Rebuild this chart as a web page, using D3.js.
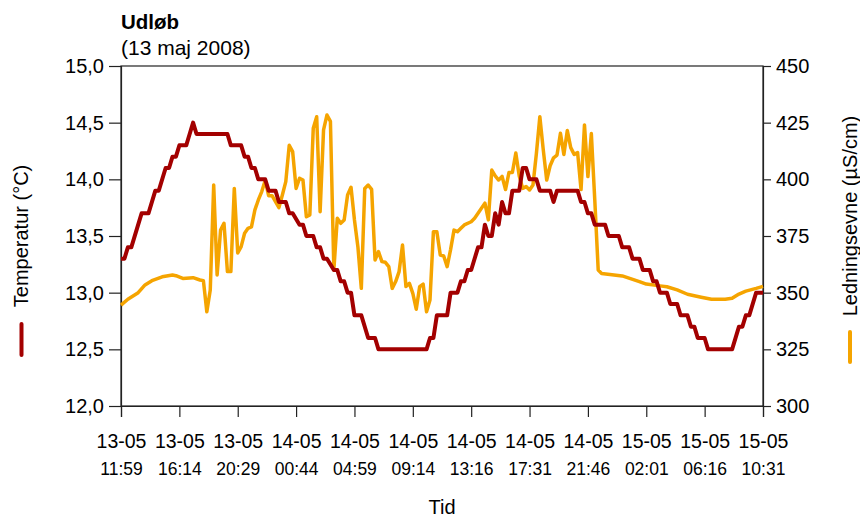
<!DOCTYPE html>
<html lang="da">
<head>
<meta charset="UTF-8">
<title>Udløb</title>
<script src="https://d3js.org/d3.v7.min.js"></script>
<style>
  body { margin: 0; background: #fff; }
  svg text { font-family: "Liberation Sans", Arial, Helvetica, sans-serif; fill: #000; }
</style>
</head>
<body>
<svg id="chart" width="860" height="518"></svg>
<script>
  // tick labels on the time axis (one tick every 17 samples)
  var tickDates = ["13-05", "13-05", "13-05", "14-05", "14-05", "14-05", "14-05", "14-05", "14-05", "15-05", "15-05", "15-05"];
  var tickTimes = ["11:59", "16:14", "20:29", "00:44", "04:59", "09:14", "13:16", "17:31", "21:46", "02:01", "06:16", "10:31"];
  var tickIdx = [0, 17, 34, 51, 68, 85, 102, 119, 136, 153, 170, 187];

  // [sample index, temperature °C]
  var temperature = [
    [0, 13.3], [1, 13.3], [2, 13.4], [3, 13.4], [6, 13.7], [8, 13.7], [10, 13.9], [11, 13.9],
    [13, 14.1], [14, 14.1], [15, 14.2], [16, 14.2], [17, 14.3], [19, 14.3], [20, 14.4], [21, 14.5],
    [22, 14.4], [31, 14.4], [32, 14.3], [35, 14.3], [36, 14.2], [37, 14.2], [38, 14.1], [39, 14.1],
    [40, 14.0], [42, 14.0], [43, 13.9], [45, 13.9], [46, 13.8], [48, 13.8], [49, 13.7], [50, 13.7],
    [52, 13.6], [53, 13.6], [54, 13.5], [56, 13.5], [57, 13.4], [58, 13.4], [59, 13.3], [60, 13.3],
    [62, 13.2], [63, 13.2], [64, 13.1], [65, 13.1], [66, 13.0], [67, 13.0], [68, 12.8], [70, 12.8],
    [72, 12.6], [74, 12.6], [75, 12.5], [89, 12.5], [90, 12.6], [91, 12.6], [92, 12.8], [95, 12.8],
    [96, 13.0], [98, 13.0], [99, 13.1], [100, 13.1], [101, 13.2], [102, 13.2], [104, 13.4], [105, 13.4],
    [106, 13.6], [107, 13.5], [108, 13.5], [109, 13.7], [110, 13.6], [111, 13.8], [112, 13.7], [113, 13.7],
    [114, 13.9], [116, 13.9], [117, 14.1], [118, 14.1], [119, 14.0], [121, 14.0], [122, 13.9], [125, 13.9],
    [126, 13.8], [127, 13.9], [133, 13.9], [134, 13.8], [135, 13.8], [136, 13.7], [137, 13.7], [138, 13.6],
    [141, 13.6], [142, 13.5], [145, 13.5], [146, 13.4], [148, 13.4], [149, 13.3], [151, 13.3], [152, 13.2],
    [154, 13.2], [155, 13.1], [156, 13.1], [157, 13.0], [159, 13.0], [160, 12.9], [162, 12.9], [163, 12.8],
    [165, 12.8], [166, 12.7], [167, 12.7], [168, 12.6], [170, 12.6], [171, 12.5], [178, 12.5], [180, 12.7],
    [181, 12.7], [182, 12.8], [183, 12.8], [185, 13.0], [187, 13.0]
  ];

  // [sample index, conductivity µS/cm]
  var conductivity = [
    [0, 344.5], [2, 347.1], [5, 350], [7, 353.4], [9, 355.3], [12, 357], [15, 357.8], [16, 357.5],
    [18, 356.3], [21, 356.6], [23, 355.6], [24, 355.3], [25, 341.6], [26, 351.2], [27, 397.5], [28, 357.8],
    [29, 377.6], [30, 380.6], [31, 359.3], [32, 359.3], [33, 396], [34, 367.5], [35, 370.3], [36, 376.2],
    [37, 378.4], [38, 379], [39, 386.5], [40, 390.9], [41, 394.6], [42, 399.5], [43, 392.8], [44, 392.8],
    [46, 387.5], [47, 393.1], [48, 399], [49, 415], [50, 412.2], [51, 396], [52, 400.5], [53, 399.7],
    [54, 383.5], [55, 384.3], [56, 422.5], [57, 427.6], [58, 385.7], [59, 421.8], [60, 428.4], [61, 425.6],
    [62, 360], [63, 382.8], [64, 380.6], [65, 382.1], [66, 393.1], [67, 396.5], [68, 382.1], [69, 370.3],
    [70, 351.9], [71, 396], [72, 397.5], [73, 395.6], [74, 364.4], [75, 368.1], [76, 363.7], [77, 363.4],
    [78, 361.5], [79, 351.9], [80, 354.9], [81, 359.3], [82, 371], [83, 352.7], [84, 354.1], [85, 349.7],
    [86, 342.7], [87, 352.7], [88, 353.8], [89, 341.6], [90, 346.8], [91, 376.9], [92, 376.9], [93, 366.6],
    [94, 366.2], [95, 361.5], [96, 369], [97, 377.6], [98, 376.9], [99, 378.4], [100, 379.9], [102, 381.3],
    [103, 382.8], [104, 385], [106, 389.5], [107, 382.1], [108, 404.1], [109, 401.5], [110, 399.7], [111, 401.3],
    [112, 395.5], [113, 403], [114, 403], [115, 411.6], [116, 401.5], [117, 396], [118, 396.8], [119, 395.3],
    [120, 397.5], [121, 411.5], [122, 427.6], [123, 413], [124, 399.7], [125, 406], [126, 409.5], [127, 410.7],
    [128, 420.3], [129, 411], [130, 421.5], [131, 414], [132, 411], [133, 411.8], [134, 395.5], [135, 424],
    [136, 401.2], [137, 420.2], [138, 390.9], [139, 360], [140, 358.5], [146, 357.4], [151, 354.9], [153, 353.8],
    [157, 353], [159, 352.6], [162, 351.2], [165, 349.3], [169, 348], [172, 347.1], [176, 347.1], [178, 347.5],
    [180, 349.4], [182, 350.7], [185, 351.9], [187, 352.8]
  ];

  var tempTicks = [12.0, 12.5, 13.0, 13.5, 14.0, 14.5, 15.0];
  var condTicks = [300, 325, 350, 375, 400, 425, 450];

  var svg = d3.select("#chart");
  var plotL = 121, plotR = 763, plotT = 66, plotB = 406;

  var x = d3.scaleLinear().domain([0, 187]).range([plotL, plotR]);
  var yT = d3.scaleLinear().domain([12, 15]).range([plotB, plotT]);
  var yC = d3.scaleLinear().domain([300, 450]).range([plotB, plotT]);

  var red = "#a30000", orange = "#f5a400";

  // frame
  svg.append("rect")
    .attr("x", plotL).attr("y", plotT)
    .attr("width", plotR - plotL).attr("height", plotB - plotT)
    .attr("fill", "none").attr("stroke", "#222").attr("stroke-width", 1.2);

  // left axis
  var gL = svg.append("g").attr("transform", "translate(" + plotL + ",0)")
    .call(d3.axisLeft(yT).tickValues(tempTicks).tickSize(12).tickPadding(5)
      .tickFormat(function (d) { return d3.format(".1f")(d).replace(".", ","); }));
  // right axis
  var gR = svg.append("g").attr("transform", "translate(" + plotR + ",0)")
    .call(d3.axisRight(yC).tickValues(condTicks).tickSize(8).tickPadding(5));
  // bottom axis
  var gB = svg.append("g").attr("transform", "translate(0," + plotB + ")")
    .call(d3.axisBottom(x).tickValues(tickIdx).tickSize(11).tickFormat(""));

  [gL, gR, gB].forEach(function (g) {
    g.select(".domain").attr("stroke", "#222").attr("stroke-width", 1.2);
    g.selectAll(".tick line").attr("stroke", "#222").attr("stroke-width", 1.2);
    g.selectAll(".tick text").style("font-size", "20px").attr("fill", "#000");
  });

  gB.selectAll(".tick").each(function (d, i) {
    var t = d3.select(this);
    t.append("text").attr("y", 42).attr("text-anchor", "middle")
      .style("font-size", "19.5px").text(tickDates[i]);
    t.append("text").attr("y", 69).attr("text-anchor", "middle")
      .style("font-size", "17.5px").text(tickTimes[i]);
  });

  // lines
  var lineT = d3.line().x(function (d) { return x(d[0]); }).y(function (d) { return yT(d[1]); });
  var lineC = d3.line().x(function (d) { return x(d[0]); }).y(function (d) { return yC(d[1]); });

  svg.append("path").datum(conductivity).attr("d", lineC)
    .attr("fill", "none").attr("stroke", orange).attr("stroke-width", 3.5).attr("stroke-linejoin", "round");
  svg.append("path").datum(temperature).attr("d", lineT)
    .attr("fill", "none").attr("stroke", red).attr("stroke-width", 4).attr("stroke-linejoin", "round");

  // titles
  svg.append("text").attr("x", plotL).attr("y", 29).style("font-size", "20.5px").style("font-weight", "bold").text("Udløb");
  svg.append("text").attr("x", plotL).attr("y", 55).style("font-size", "21px").text("(13 maj 2008)");
  svg.append("text").attr("x", (plotL + plotR) / 2).attr("y", 514).attr("text-anchor", "middle")
    .style("font-size", "20px").text("Tid");

  // y titles with legend marks
  svg.append("text").attr("transform", "translate(28,236) rotate(-90)").attr("text-anchor", "middle")
    .style("font-size", "20px").text("Temperatur (°C)");
  svg.append("line").attr("x1", 21.5).attr("x2", 21.5).attr("y1", 324).attr("y2", 355)
    .attr("stroke", red).attr("stroke-width", 4).attr("stroke-linecap", "round");

  svg.append("text").attr("transform", "translate(857,216) rotate(-90)").attr("text-anchor", "middle")
    .style("font-size", "20px").text("Ledningsevne (µS/cm)");
  svg.append("line").attr("x1", 850).attr("x2", 850).attr("y1", 332).attr("y2", 362)
    .attr("stroke", orange).attr("stroke-width", 4).attr("stroke-linecap", "round");
</script>
</body>
</html>
